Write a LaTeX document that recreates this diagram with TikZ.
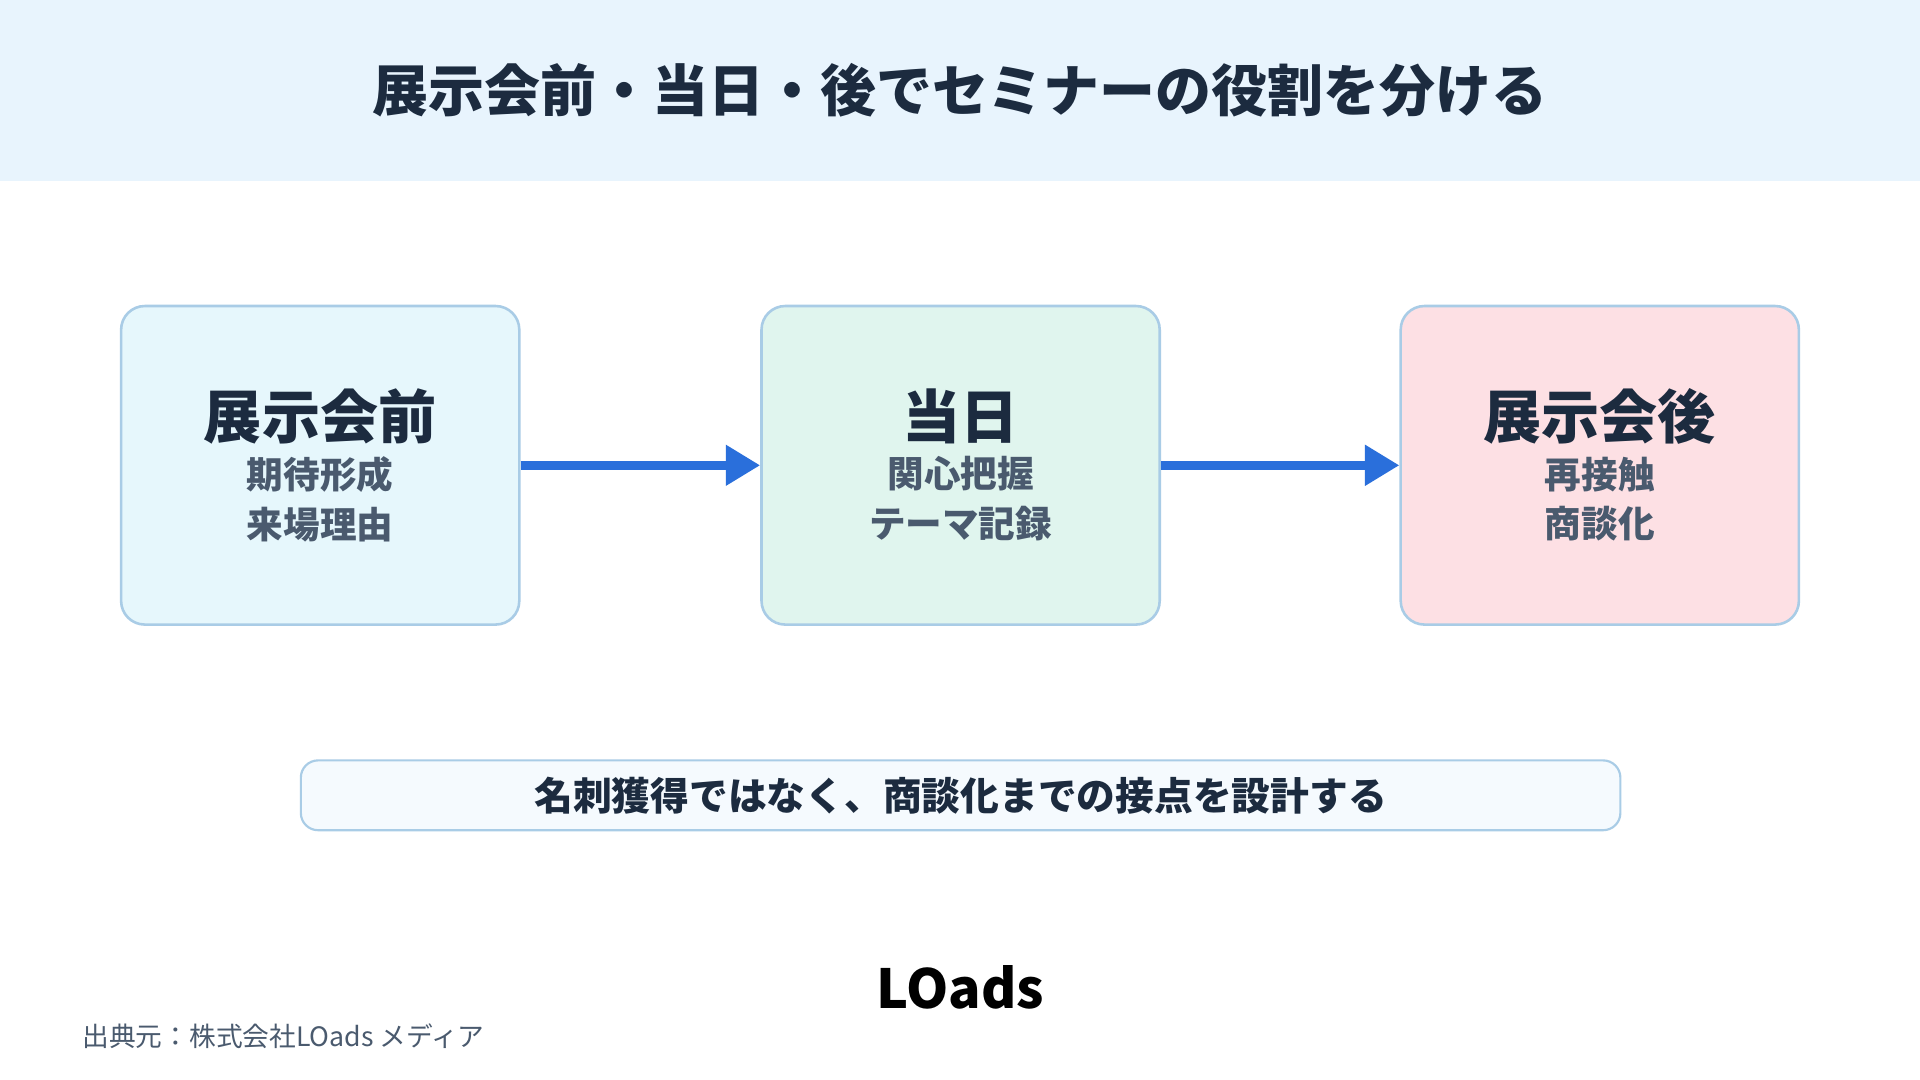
\documentclass[tikz,border=0pt]{standalone}
\usepackage{fontspec}
\setmainfont{Noto Sans CJK JP}
\usetikzlibrary{arrows.meta,positioning}
\definecolor{headbg}{HTML}{E8F4FD}
\definecolor{ink}{HTML}{1C2B3F}
\definecolor{subink}{HTML}{4A5A6E}
\definecolor{edge}{HTML}{A9CCE6}
\definecolor{fillA}{HTML}{E6F7FC}
\definecolor{fillB}{HTML}{E0F5EE}
\definecolor{fillC}{HTML}{FDE0E4}
\definecolor{flow}{HTML}{2A6FDB}
\begin{document}
\begin{tikzpicture}[x=0.01cm, y=-0.01cm,
    stage/.style={draw=edge, line width=0.6pt, rounded corners=5.5pt,
      minimum width=3.25cm, minimum height=2.6cm, align=center, inner sep=0pt},
    head/.style={font=\fontsize{13.5pt}{16pt}\selectfont\bfseries, text=ink, inner sep=0pt},
    sub/.style={font=\fontsize{8.5pt}{11.5pt}\selectfont\bfseries, text=subink, align=center, inner sep=0pt},
    flowlink/.style={-{Triangle[length=8pt,width=9pt]}, flow, line width=2.2pt}]

      \fill[white] (0,0) rectangle (1568,882);
      \fill[headbg] (0,0) rectangle (1568,148);
      \node[font=\fontsize{13pt}{15pt}\selectfont\bfseries, text=ink] (title) at (784,74) {展示会前・当日・後でセミナーの役割を分ける};

      \node[stage, fill=fillA] (before) at (261.5,380) {};
      \node[stage, fill=fillB] (day) at (784.5,380) {};
      \node[stage, fill=fillC] (after) at (1306.5,380) {};

      \node[head] (beforehead) at (261.5,340) {展示会前};
      \node[sub, below=2.5pt of beforehead] (beforesub) {期待形成\\来場理由};
      \node[head] (dayhead) at (784.5,340) {当日};
      \node[sub, below=2.5pt of dayhead] (daysub) {関心把握\\テーマ記録};
      \node[head] (afterhead) at (1306.5,340) {展示会後};
      \node[sub, below=2.5pt of afterhead] (aftersub) {再接触\\商談化};

      \draw[flowlink] (before.east) -- (day.west);
      \draw[flowlink] (day.east) -- (after.west);

      \node[draw=edge, fill=headbg!45, line width=0.5pt, rounded corners=4pt,
        minimum width=10.77cm, minimum height=0.57cm,
        font=\fontsize{9pt}{11pt}\selectfont\bfseries, text=ink] (note) at (784.5,649.5)
        {名刺獲得ではなく、商談化までの接点を設計する};

      \node[font=\fontsize{12.5pt}{14pt}\selectfont\bfseries] (logo) at (784,806) {LOads};
      \node[anchor=west, font=\fontsize{6.2pt}{8pt}\selectfont, text=subink] (source) at (55,846) {出典元：株式会社LOads メディア};
\end{tikzpicture}
\end{document}
